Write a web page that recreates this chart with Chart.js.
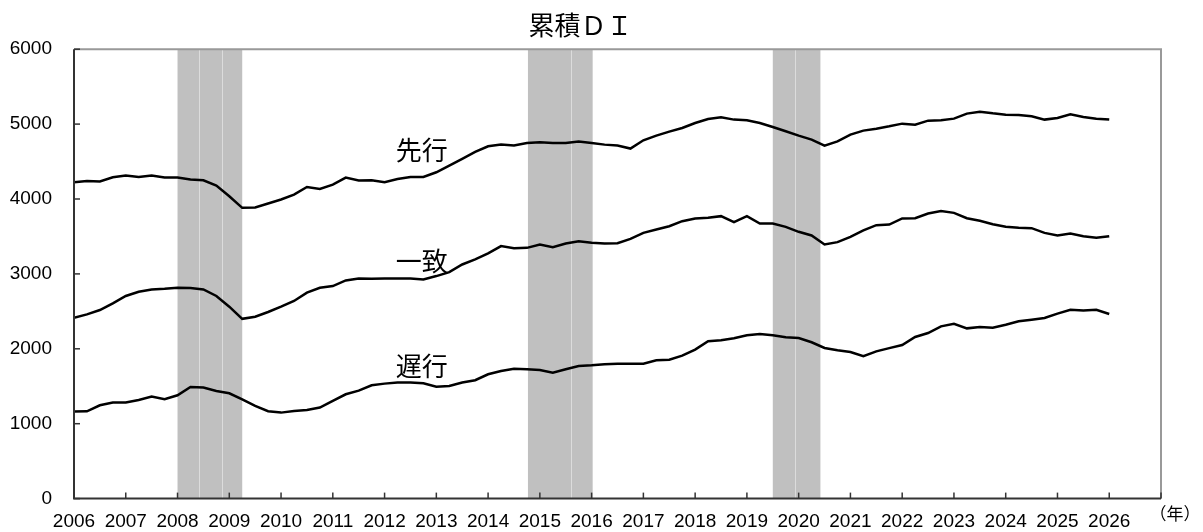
<!DOCTYPE html>
<html>
<head>
<meta charset="utf-8">
<script src="https://cdn.jsdelivr.net/npm/chart.js@4.4.1/dist/chart.umd.min.js"></script>
<style>
  html, body { margin: 0; background: #fff; }
</style>
</head>
<body>
<canvas id="diChart" width="1203" height="532"></canvas>
<script>
// quarterly points, 2006 Q1 .. 2026 Q1
let dates = []
for (let i = 0; i <= 80; i++) dates.push(2006 + i / 4)

let leading = [
  4224, 4240, 4235, 4290, 4313, 4295, 4313, 4286, 4286, 4259,
  4250, 4180, 4037, 3882, 3886, 3939, 3993, 4059, 4161, 4135,
  4192, 4285, 4246, 4250, 4224, 4268, 4295, 4295, 4357, 4446,
  4535, 4628, 4704, 4726, 4713, 4748, 4757, 4748, 4748, 4766,
  4748, 4726, 4713, 4673, 4784, 4846, 4899, 4948, 5015, 5068,
  5091, 5060, 5051, 5015, 4962, 4904, 4846, 4793, 4713, 4770,
  4859, 4913, 4939, 4970, 5006, 4993, 5046, 5051, 5073, 5140,
  5166, 5144, 5126, 5122, 5104, 5060, 5082, 5131, 5095, 5073,
  5060
]
let coincident = [
  2415, 2460, 2518, 2607, 2705, 2762, 2793, 2802, 2815, 2811,
  2793, 2705, 2562, 2400, 2429, 2491, 2562, 2638, 2749, 2815,
  2838, 2913, 2940, 2935, 2940, 2940, 2940, 2926, 2971, 3024,
  3126, 3193, 3273, 3371, 3344, 3348, 3393, 3357, 3406, 3437,
  3415, 3406, 3410, 3468, 3548, 3593, 3637, 3704, 3740, 3749,
  3771, 3691, 3771, 3673, 3673, 3628, 3562, 3513, 3393, 3424,
  3495, 3580, 3651, 3658, 3740, 3744, 3806, 3838, 3815, 3744,
  3709, 3664, 3629, 3615, 3611, 3548, 3513, 3539, 3504, 3482,
  3504
]
let lagging = [
  1162, 1166, 1246, 1282, 1282, 1317, 1362, 1326, 1380, 1491,
  1482, 1437, 1406, 1326, 1237, 1166, 1148, 1171, 1184, 1215,
  1304, 1393, 1442, 1513, 1535, 1549, 1549, 1540, 1495, 1504,
  1549, 1580, 1660, 1704, 1735, 1726, 1717, 1682, 1726, 1771,
  1780, 1793, 1800, 1802, 1802, 1846, 1855, 1909, 1989, 2100,
  2113, 2140, 2180, 2198, 2180, 2153, 2144, 2087, 2011, 1980,
  1958, 1900, 1966, 2009, 2051, 2158, 2211, 2300, 2335, 2273,
  2291, 2282, 2322, 2367, 2389, 2411, 2469, 2522, 2513, 2522,
  2464
]

let seriesNames = ['先行', '一致', '遅行']
// shaded periods (start, end) and the thin splits inside them
let recessions = [[2008.0, 2009.25], [2014.77, 2016.02], [2019.5, 2020.42]]
let recessionSplits = [2008.42, 2008.85, 2015.6, 2019.93]

let numFont = { family: '"Liberation Sans", Arial, sans-serif', size: 19 }
let jpFont = '"Noto Sans CJK JP", "Noto Sans", sans-serif'

function pts(values) {
  return dates.map((d, i) => ({ x: d, y: values[i] }))
}

let decor = {
  id: 'decor',
  beforeDatasetsDraw(chart) {
    let { ctx, chartArea: a, scales: { x } } = chart
    ctx.save()
    ctx.fillStyle = '#c0c0c0'
    recessions.forEach(r => {
      let x0 = x.getPixelForValue(r[0])
      let x1 = x.getPixelForValue(r[1])
      ctx.fillRect(x0, a.top, x1 - x0, a.bottom - a.top)
    })
    ctx.strokeStyle = '#dcdcdc'
    ctx.lineWidth = 1
    recessionSplits.forEach(s => {
      let px = Math.round(x.getPixelForValue(s)) + 0.5
      ctx.beginPath()
      ctx.moveTo(px, a.top)
      ctx.lineTo(px, a.bottom)
      ctx.stroke()
    })
    ctx.restore()
  },
  afterDatasetsDraw(chart) {
    let { ctx, chartArea: a, scales: { x, y } } = chart
    ctx.save()
    // frame
    ctx.lineWidth = 2
    ctx.strokeStyle = '#999'
    ctx.beginPath()
    ctx.moveTo(a.left, a.top)
    ctx.lineTo(a.right, a.top)
    ctx.lineTo(a.right, a.bottom)
    ctx.stroke()
    ctx.strokeStyle = '#333'
    ctx.beginPath()
    ctx.moveTo(a.left, a.top)
    ctx.lineTo(a.left, a.bottom)
    ctx.lineTo(a.right, a.bottom)
    ctx.stroke()
    // inward tick marks
    ctx.lineWidth = 1.5
    y.ticks.forEach(t => {
      let py = y.getPixelForValue(t.value)
      ctx.beginPath()
      ctx.moveTo(a.left, py)
      ctx.lineTo(a.left + 6, py)
      ctx.stroke()
    })
    x.ticks.forEach(t => {
      let px = x.getPixelForValue(t.value)
      ctx.beginPath()
      ctx.moveTo(px, a.bottom)
      ctx.lineTo(px, a.bottom - 6)
      ctx.stroke()
    })
    // series names
    ctx.fillStyle = '#000'
    ctx.font = '26px ' + jpFont
    ctx.textAlign = 'center'
    ctx.textBaseline = 'middle'
    let nameX = x.getPixelForValue(2012.72)
    let nameY = [4655, 3165, 1770]
    seriesNames.forEach((n, i) => ctx.fillText(n, nameX, y.getPixelForValue(nameY[i])))
    // unit
    ctx.font = '17px ' + jpFont
    ctx.fillText('（年）', a.right + 14, a.bottom + 15)
    ctx.restore()
  }
}

let ctx = document.getElementById('diChart').getContext('2d')
let diChart = new Chart(ctx, {
  type: 'line',
  data: {
    datasets: [
      { label: seriesNames[0], data: pts(leading) },
      { label: seriesNames[1], data: pts(coincident) },
      { label: seriesNames[2], data: pts(lagging) }
    ].map(d => Object.assign(d, {
      borderColor: '#000',
      borderWidth: 2.5,
      pointRadius: 0,
      tension: 0,
      fill: false
    }))
  },
  options: {
    responsive: false,
    animation: false,
    devicePixelRatio: 1,
    layout: { padding: { left: 0, right: 42, top: 0, bottom: 0 } },
    plugins: {
      legend: { display: false },
      tooltip: { enabled: false },
      title: {
        display: true,
        text: '累積ＤＩ',
        color: '#000',
        font: { family: jpFont, size: 26, weight: 'normal' },
        padding: { top: 10, bottom: 8 }
      }
    },
    scales: {
      x: {
        type: 'linear',
        min: 2006,
        max: 2027,
        grid: { display: false, drawTicks: false },
        border: { display: false },
        ticks: {
          stepSize: 1,
          autoSkip: false,
          maxRotation: 0,
          padding: 12,
          color: '#000',
          font: numFont,
          callback: v => v < 2027 ? String(v) : ''
        },
        afterFit: s => { s.height = 32 }
      },
      y: {
        min: 0,
        max: 6000,
        grid: { display: false, drawTicks: false },
        border: { display: false },
        ticks: {
          stepSize: 1000,
          padding: 22,
          color: '#000',
          font: numFont,
          callback: v => String(v)
        },
        afterFit: s => { s.width = 74 }
      }
    }
  },
  plugins: [decor]
})
</script>
</body>
</html>
